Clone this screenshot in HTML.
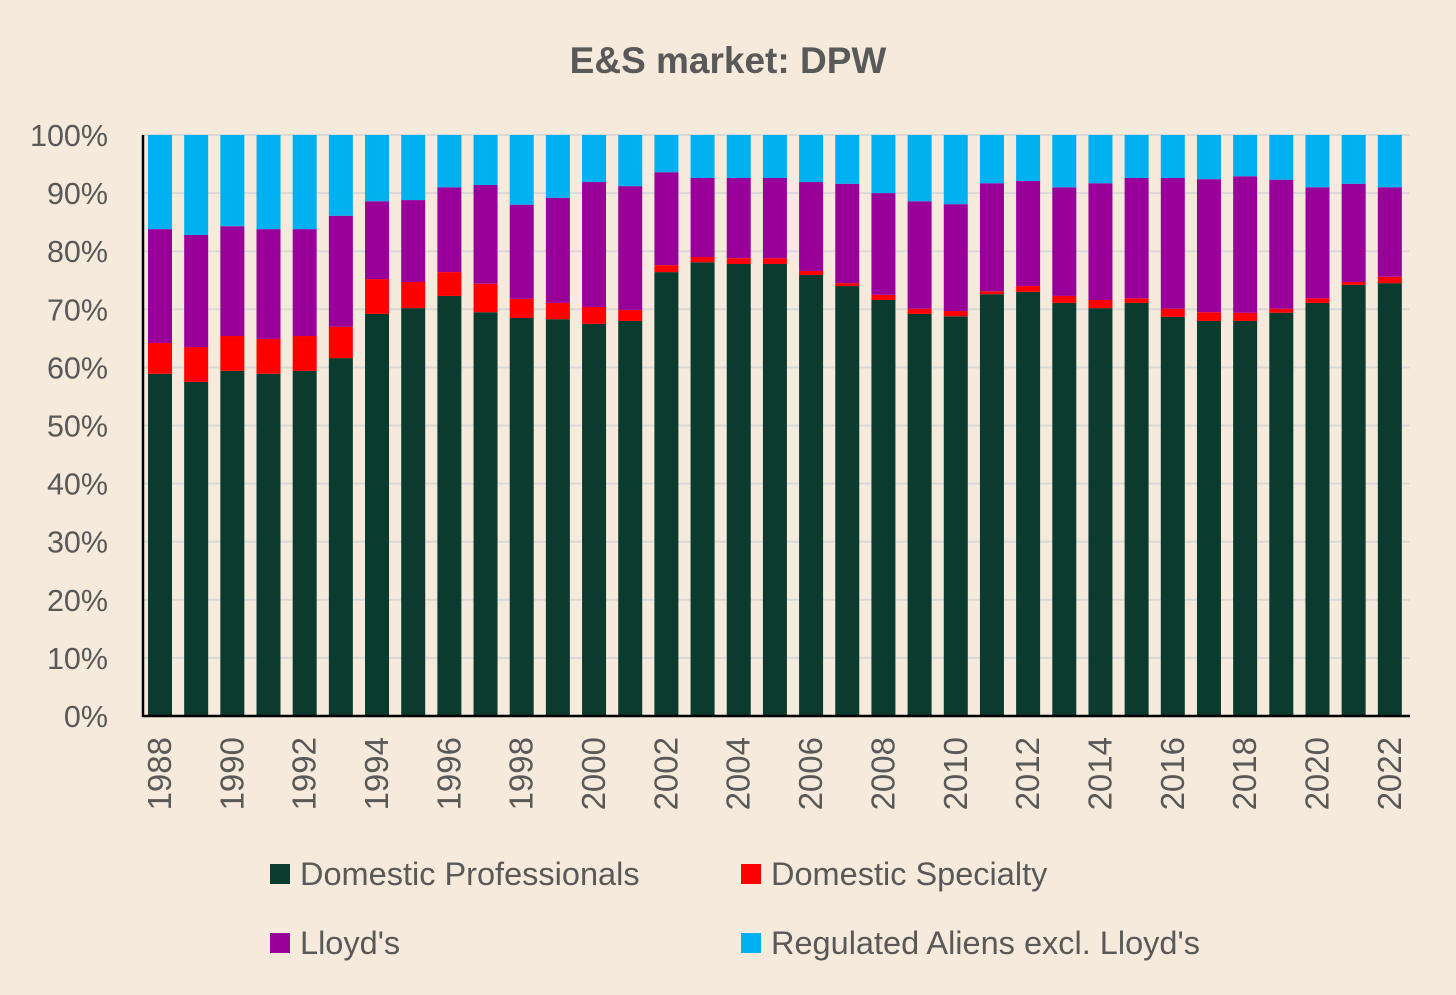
<!DOCTYPE html>
<html><head><meta charset="utf-8"><style>
body{margin:0;background:#f5eadb;}
svg{display:block;font-family:"Liberation Sans",Calibri,sans-serif;}
</style></head><body>
<svg id="c" width="1456" height="995">
<rect width="1456" height="995" fill="#f5eadb"/>
<text x="728" y="73" text-anchor="middle" font-size="37" font-weight="bold" fill="#595959">E&amp;S market: DPW</text>
<g id="grid"></g><g id="bars"></g><g id="axes"></g>
<g>
<rect x="270" y="864" width="20" height="20" fill="#0a3b2e"/>
<text x="300" y="885" font-size="32.5" fill="#595959">Domestic Professionals</text>
<rect x="741" y="864" width="20" height="20" fill="#ff0000"/>
<text x="771" y="885" font-size="32.5" fill="#595959">Domestic Specialty</text>
<rect x="270" y="933" width="20" height="20" fill="#990099"/>
<text x="300" y="954" font-size="32.5" fill="#595959">Lloyd's</text>
<rect x="741" y="933" width="20" height="20" fill="#00b0f0"/>
<text x="771" y="954" font-size="32.5" fill="#595959">Regulated Aliens excl. Lloyd's</text>
</g>
</svg>
<script>
const years=[1988,1989,1990,1991,1992,1993,1994,1995,1996,1997,1998,1999,2000,2001,2002,2003,2004,2005,2006,2007,2008,2009,2010,2011,2012,2013,2014,2015,2016,2017,2018,2019,2020,2021,2022];
const domProf=[58.9,57.5,59.4,58.9,59.4,61.6,69.2,70.2,72.3,69.5,68.5,68.3,67.5,68.0,76.4,78.1,77.8,77.8,75.9,74.0,71.6,69.2,68.8,72.6,73.0,71.1,70.2,71.1,68.7,68.0,68.0,69.4,71.1,74.2,74.5];
const domSpec=[5.3,6.0,6.0,6.0,6.0,5.4,6.0,4.5,4.1,4.9,3.3,2.8,2.9,1.9,1.2,0.9,1.0,1.0,0.7,0.5,0.9,0.9,0.9,0.5,1.0,1.2,1.4,0.8,1.4,1.5,1.4,0.7,0.8,0.5,1.1];
const lloyds=[19.6,19.3,18.9,18.9,18.4,19.1,13.4,14.1,14.6,17.0,16.2,18.1,21.5,21.3,16.0,13.6,13.8,13.8,15.3,17.1,17.5,18.5,18.4,18.6,18.1,18.7,20.1,20.7,22.5,22.9,23.5,22.2,19.1,16.9,15.4];
const yTicks=[0,10,20,30,40,50,60,70,80,90,100];
const NS="http://www.w3.org/2000/svg";
const x0=144,x1=1410,y0=716,y1=135,slot=(x1-x0)/years.length,bw=24;
const yS=v=>y0-(y0-y1)*v/100;
const xC=i=>x0+16+slot*i;
function mk(t,a,p){const e=document.createElementNS(NS,t);for(const k in a)e.setAttribute(k,a[k]);p.appendChild(e);return e;}
const grid=document.getElementById('grid'),bars=document.getElementById('bars'),axes=document.getElementById('axes');
yTicks.forEach(v=>{
 const l=mk('line',{x1:x0,x2:x1,y1:yS(v),y2:yS(v),stroke:'#d9d9d9','stroke-width':2},grid);
 
 
 const t=mk('text',{x:108,y:yS(v)+11,'text-anchor':'end','font-size':30.5,fill:'#595959'},axes);
 t.textContent=v+'%';
 
 
});
years.forEach((yr,i)=>{
 const segs=[[domProf[i],'#0a3b2e','domestic-professionals'],[domSpec[i],'#ff0000','domestic-specialty'],[lloyds[i],'#990099','lloyds']];
 const reg=100-domProf[i]-domSpec[i]-lloyds[i];
 segs.push([reg,'#00b0f0','regulated-aliens']);
 let base=0;
 segs.forEach(s=>{
  const r=mk('rect',{x:xC(i)-bw/2,y:yS(base+s[0]),width:bw,height:yS(base)-yS(base+s[0]),fill:s[1]},bars);
  
  
  base+=s[0];
 });
 if(i%2===0){
  const t=mk('text',{x:0,y:0,'text-anchor':'end','font-size':33,fill:'#595959',transform:`translate(${xC(i)+11},737) rotate(-90)`},axes);
  t.textContent=yr;
  
  
 }
});
const ya=mk('line',{x1:x0-1,x2:x0-1,y1:y1,y2:y0+1,stroke:'#000','stroke-width':2.5},axes);


const xa=mk('line',{x1:x0-2,x2:x1,y1:y0,y2:y0,stroke:'#000','stroke-width':2.5},axes);


</script>
</body></html>
